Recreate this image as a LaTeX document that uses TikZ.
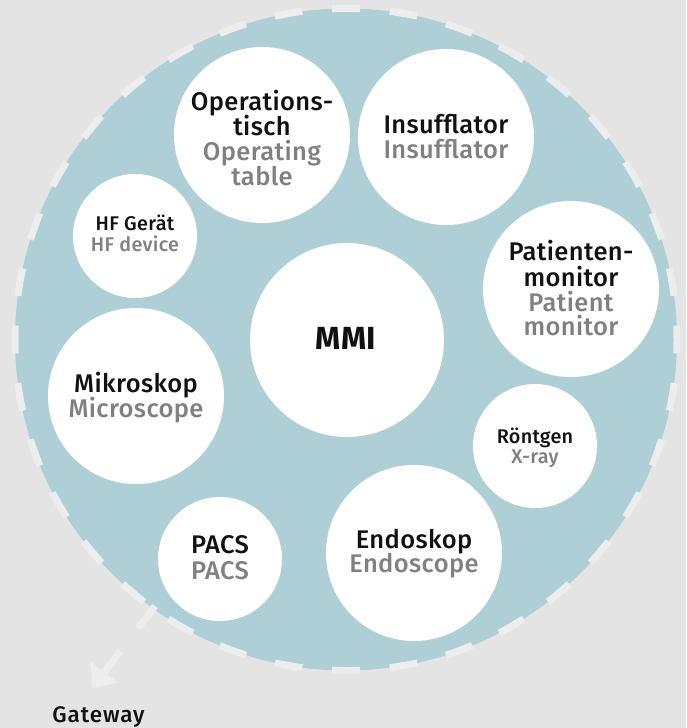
\documentclass[tikz,border=0pt]{standalone}
\usepackage{fontspec}
\IfFontExistsTF{Fira Sans Medium}
  {\setmainfont{Fira Sans Medium}[BoldFont={Fira Sans Bold},LetterSpace=1.5]}
  {\setmainfont{Fira Sans}[LetterSpace=1.5]}
\usetikzlibrary{arrows.meta}
\pgfdeclarelayer{back}
\pgfsetlayers{back,main}
\definecolor{bgc}{HTML}{E4E4E4}
\definecolor{ringc}{HTML}{AECFD6}
\definecolor{dashc}{HTML}{EDEDED}
\definecolor{engray}{HTML}{808080}
\definecolor{txt}{HTML}{111111}
\begin{document}
\begin{tikzpicture}[x=1pt,y=-1pt,
  dev/.style={circle,fill=white,inner sep=0pt,minimum size=#1},
  de/.style={anchor=base,inner sep=0pt,text=txt,font=\fontsize{25.5}{25}\selectfont},
  en/.style={de,text=engray},
  sde/.style={anchor=base,inner sep=0pt,text=txt,font=\fontsize{19.8}{20}\selectfont},
  sen/.style={sde,text=engray},
  link/.style={draw=white,line width=4pt}]
\fill[bgc] (0,0) rectangle (686,728);
\useasboundingbox (0,0) rectangle (686,728);
% ring
\node[circle,fill=ringc,draw=dashc,line width=7pt,dash pattern=on 28pt off 29.78pt,dash phase=14pt,
      inner sep=0pt,minimum size=662pt] (ring) at (346,339.5) {};
% circles
\node[dev=194pt] (mmi) at (347,340) {};
\node[dev=176pt] (op)  at (262,135) {};
\node[dev=176pt] (ins) at (446,137) {};
\node[dev=124pt] (hf)  at (135,236) {};
\node[dev=176pt] (pat) at (571,289) {};
\node[dev=176pt] (mik) at (136,396) {};
\node[dev=124pt] (rx)  at (535,446) {};
\node[dev=124pt] (pacs) at (220,559) {};
\node[dev=176pt] (endo) at (414,553) {};
% links
\begin{pgfonlayer}{back}
\foreach \n in {op,ins,hf,pat,mik,rx,pacs,endo}
  \draw[link] (mmi.center) -- (\n.center);
\end{pgfonlayer}
% texts
\node[anchor=base,inner sep=0pt,text=txt,font=\bfseries\fontsize{32}{32}\selectfont] (mmi-t) at (346,349) {MMI};
\node[de] (op-1) at (262,110) {Operations-};
\node[de] (op-2) at (262,135) {tisch};
\node[en] (op-3) at (262,160) {Operating};
\node[en] (op-4) at (262,185) {table};
\node[de] (ins-1) at (446,133) {Insufflator};
\node[en] (ins-2) at (446,158) {Insufflator};
\node[sde] (hf-1) at (135,230) {HF Gerät};
\node[sen] (hf-2) at (135,251) {HF device};
\node[de] (pat-1) at (571,260) {Patienten-};
\node[de] (pat-2) at (571,286) {monitor};
\node[en] (pat-3) at (571,311) {Patient};
\node[en] (pat-4) at (571,335) {monitor};
\node[de] (mik-1) at (136,392) {Mikroskop};
\node[en] (mik-2) at (136,417) {Microscope};
\node[sde] (rx-1) at (535,443) {Röntgen};
\node[sen] (rx-2) at (535,463) {X-ray};
\node[de] (pacs-1) at (220,553) {PACS};
\node[en] (pacs-2) at (220,579) {PACS};
\node[de] (endo-1) at (414,548) {Endoskop};
\node[en] (endo-2) at (414,572) {Endoscope};
% gateway
\coordinate (gws) at (155,606);
\coordinate (gwt) at (92,688);
\draw[dashc,line width=7pt,dash pattern=on 28pt off 29pt,
      -{Triangle[length=20pt,width=35pt,line width=0pt]}] (gws) -- (gwt);
\node[anchor=base,inner sep=0pt,text=txt,font=\fontsize{22.5}{22}\selectfont\addfontfeature{LetterSpace=4}] (gw) at (98.5,722) {Gateway};
\end{tikzpicture}
\end{document}
